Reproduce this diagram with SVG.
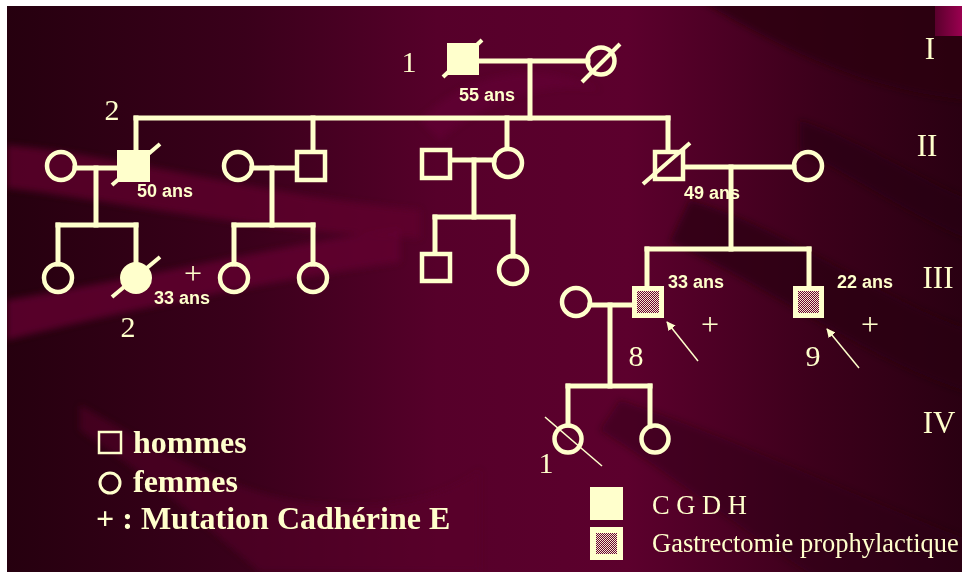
<svg xmlns="http://www.w3.org/2000/svg" width="962" height="572" viewBox="0 0 962 572">
  <defs>
    <linearGradient id="bgGrad" x1="0" y1="0" x2="1" y2="0">
      <stop offset="0" stop-color="#26000f"/>
      <stop offset="0.25" stop-color="#3a001b"/>
      <stop offset="0.45" stop-color="#56002a"/>
      <stop offset="0.65" stop-color="#5c002d"/>
      <stop offset="0.85" stop-color="#3c001b"/>
      <stop offset="1" stop-color="#2a0012"/>
    </linearGradient>
    <linearGradient id="cornerGrad" x1="0" y1="0" x2="1" y2="0">
      <stop offset="0" stop-color="#5a002c"/>
      <stop offset="1" stop-color="#9a0050"/>
    </linearGradient>
    <clipPath id="slide">
      <rect x="7" y="6" width="955" height="566"/>
    </clipPath>
    <filter id="soft" x="-10%" y="-10%" width="120%" height="120%">
      <feGaussianBlur stdDeviation="3"/>
    </filter>
    <pattern id="dots" width="2" height="2" patternUnits="userSpaceOnUse">
      <rect width="2" height="2" fill="#6a0032"/>
      <rect width="1" height="1" fill="#f6eccb"/>
      <rect x="1" y="1" width="1" height="1" fill="#f6eccb"/>
    </pattern>
    <marker id="arrow" viewBox="0 0 10 10" refX="9" refY="5" markerWidth="9" markerHeight="9" markerUnits="userSpaceOnUse" orient="auto">
      <path d="M0,0 L10,5 L0,10 Z" fill="#FFFFCC"/>
    </marker>
    <style>
      .ln { stroke: #FFFFCC; stroke-width: 5; fill: none; stroke-linecap: square; }
      .open { fill: none; stroke: #FFFFCC; stroke-width: 4.5; }
      .full { fill: #FFFFCC; stroke: none; }
      .slash { stroke: #FFFFCC; stroke-width: 4; }
      .thin { stroke: #FFFFCC; stroke-width: 1.5; }
      .num { font-family: "Liberation Serif", "Times New Roman", serif; font-size: 30px; fill: #FFFFCC; text-anchor: middle; }
      .plus { font-family: "Liberation Serif", "Times New Roman", serif; font-size: 32px; fill: #FFFFCC; text-anchor: middle; }
      .age { font-family: "Liberation Sans", Arial, sans-serif; font-size: 18px; font-weight: bold; fill: #FFFFCC; }
      .gen { font-family: "Liberation Serif", "Times New Roman", serif; font-size: 31px; fill: #FFFFCC; text-anchor: middle; }
      .leg { font-family: "Liberation Serif", "Times New Roman", serif; font-size: 32px; font-weight: bold; fill: #FFFFCC; }
      .key { font-family: "Liberation Serif", "Times New Roman", serif; font-size: 26.5px; fill: #FFFFCC; }
    </style>
  </defs>

  <!-- slide background -->
  <rect width="962" height="572" fill="#ffffff"/>
  <rect x="7" y="6" width="955" height="566" fill="url(#bgGrad)"/>
  <g clip-path="url(#slide)">
    <g id="background-bands" filter="url(#soft)">
      <path d="M7,145 C120,155 260,195 420,210 L420,238 C260,232 110,200 7,188 Z" fill="#62002f" opacity="0.75"/>
      <path d="M7,300 C120,282 250,252 400,228 L400,262 C250,284 120,312 7,340 Z" fill="#62002f" opacity="0.8"/>
      <path d="M80,405 C150,445 220,488 300,502 C380,512 440,500 480,470 L480,572 L260,572 C200,520 140,470 80,430 Z" fill="#5a002b" opacity="0.5"/>
      <path d="M420,120 C470,70 540,60 600,90 C560,80 490,95 440,140 Z" fill="#66003a" opacity="0.5"/>
      <path d="M700,0 L970,0 L970,100 C880,92 800,60 700,0 Z" fill="#2a0010" opacity="0.8"/>
      <path d="M690,200 C790,230 880,300 970,330 L970,392 C870,362 780,292 670,242 Z" fill="#2a0010" opacity="0.7"/>
      <path d="M800,120 C860,140 920,180 970,200 L970,240 C910,215 860,180 800,150 Z" fill="#2a0010" opacity="0.6"/>
      <path d="M620,400 C740,440 840,490 970,540 L970,580 L820,580 C740,530 680,480 600,430 Z" fill="#2a0010" opacity="0.45"/>
    </g>
    <rect x="935" y="6" width="27" height="30" fill="url(#cornerGrad)"/>
  </g>

  <!-- connectors: couple lines, descent lines and sibships -->
  <g id="connectors">
    <!-- generation I -->
    <line class="ln" x1="479" y1="61" x2="588" y2="61"/>
    <line class="ln" x1="530" y1="61" x2="530" y2="118"/>
    <line class="ln" x1="136" y1="118" x2="668" y2="118"/>
    <line class="ln" x1="136" y1="118" x2="136" y2="150"/>
    <line class="ln" x1="313" y1="118" x2="313" y2="150"/>
    <line class="ln" x1="507" y1="118" x2="507" y2="148"/>
    <line class="ln" x1="668" y1="118" x2="668" y2="150"/>
    <!-- generation II couples -->
    <line class="ln" x1="75" y1="168" x2="117" y2="168"/>
    <line class="ln" x1="96" y1="168" x2="96" y2="225"/>
    <line class="ln" x1="252" y1="168" x2="295" y2="168"/>
    <line class="ln" x1="272" y1="168" x2="272" y2="225"/>
    <line class="ln" x1="451" y1="160" x2="494" y2="160"/>
    <line class="ln" x1="474" y1="160" x2="474" y2="217"/>
    <line class="ln" x1="685" y1="167" x2="794" y2="167"/>
    <line class="ln" x1="731" y1="167" x2="731" y2="249"/>
    <!-- generation III sibships -->
    <line class="ln" x1="58" y1="225" x2="136" y2="225"/>
    <line class="ln" x1="58" y1="225" x2="58" y2="264"/>
    <line class="ln" x1="136" y1="225" x2="136" y2="262"/>
    <line class="ln" x1="234" y1="225" x2="313" y2="225"/>
    <line class="ln" x1="234" y1="225" x2="234" y2="264"/>
    <line class="ln" x1="313" y1="225" x2="313" y2="264"/>
    <line class="ln" x1="435" y1="217" x2="513" y2="217"/>
    <line class="ln" x1="435" y1="217" x2="435" y2="252"/>
    <line class="ln" x1="513" y1="217" x2="513" y2="256"/>
    <line class="ln" x1="647" y1="249" x2="809" y2="249"/>
    <line class="ln" x1="647" y1="249" x2="647" y2="286"/>
    <line class="ln" x1="809" y1="249" x2="809" y2="286"/>
    <!-- generation III couple and generation IV -->
    <line class="ln" x1="590" y1="305" x2="632" y2="305"/>
    <line class="ln" x1="610" y1="305" x2="610" y2="386"/>
    <line class="ln" x1="568" y1="386" x2="650" y2="386"/>
    <line class="ln" x1="568" y1="386" x2="568" y2="425"/>
    <line class="ln" x1="650" y1="386" x2="650" y2="426"/>
    <!-- proband arrows -->
    <line class="thin" x1="698" y1="361" x2="667" y2="322" marker-end="url(#arrow)"/>
    <line class="thin" x1="859" y1="368" x2="827" y2="329" marker-end="url(#arrow)"/>
  </g>

  <!-- generation I -->
  <g id="I-1">
    <rect class="full" x="447" y="43" width="32" height="32"/>
    <line class="slash" x1="443" y1="77" x2="482" y2="40"/>
    <text class="num" x="409" y="72">1</text>
    <text class="age" x="459" y="101">55 ans</text>
  </g>
  <g id="I-2">
    <circle class="open" cx="601" cy="61" r="13.5"/>
    <line class="slash" x1="582" y1="82" x2="620" y2="44"/>
  </g>

  <!-- generation II -->
  <g id="II-1"><circle class="open" cx="61" cy="166" r="14"/></g>
  <g id="II-2">
    <rect class="full" x="117" y="150" width="33" height="32"/>
    <line class="slash" x1="112" y1="185" x2="160" y2="144"/>
    <text class="num" x="112" y="120">2</text>
    <text class="age" x="137" y="197">50 ans</text>
  </g>
  <g id="II-3"><circle class="open" cx="238" cy="166" r="14"/></g>
  <g id="II-4"><rect class="open" x="297" y="152" width="28" height="28"/></g>
  <g id="II-5"><rect class="open" x="422" y="150" width="28" height="28"/></g>
  <g id="II-6"><circle class="open" cx="508" cy="163" r="14"/></g>
  <g id="II-7">
    <rect class="open" x="655" y="152" width="28" height="27"/>
    <line class="slash" x1="643" y1="184" x2="690" y2="143"/>
    <text class="age" x="684" y="199">49 ans</text>
  </g>
  <g id="II-8"><circle class="open" cx="808" cy="166" r="14"/></g>

  <!-- generation III -->
  <g id="III-1"><circle class="open" cx="58" cy="278" r="14"/></g>
  <g id="III-2">
    <circle class="full" cx="136" cy="278" r="16"/>
    <line class="slash" x1="112" y1="297" x2="160" y2="257"/>
    <text class="plus" x="193" y="284">+</text>
    <text class="age" x="154" y="304">33 ans</text>
    <text class="num" x="128" y="337">2</text>
  </g>
  <g id="III-3"><circle class="open" cx="234" cy="278" r="14"/></g>
  <g id="III-4"><circle class="open" cx="313" cy="278" r="14"/></g>
  <g id="III-5"><rect class="open" x="422" y="254" width="28" height="27"/></g>
  <g id="III-6"><circle class="open" cx="513" cy="270" r="14"/></g>
  <g id="III-7"><circle class="open" cx="576" cy="302" r="14"/></g>
  <g id="III-8">
    <rect class="full" x="632" y="286" width="32" height="32"/>
    <rect x="637" y="291" width="22" height="22" fill="url(#dots)"/>
    <text class="age" x="668" y="288">33 ans</text>
    <text class="plus" x="710" y="335">+</text>
    <text class="num" x="636" y="366">8</text>
  </g>
  <g id="III-9">
    <rect class="full" x="793" y="286" width="31" height="32"/>
    <rect x="798" y="291" width="21" height="22" fill="url(#dots)"/>
    <text class="age" x="837" y="288">22 ans</text>
    <text class="plus" x="870" y="335">+</text>
    <text class="num" x="813" y="366">9</text>
  </g>

  <!-- generation IV -->
  <g id="IV-1">
    <circle class="open" cx="568" cy="439" r="13.5"/>
    <line class="thin" x1="545" y1="417" x2="602" y2="466"/>
    <text class="num" x="546" y="473">1</text>
  </g>
  <g id="IV-2"><circle class="open" cx="655" cy="439" r="13.5"/></g>

  <!-- generation numerals -->
  <g id="generations">
    <text class="gen" x="930" y="59">I</text>
    <text class="gen" x="927" y="156">II</text>
    <text class="gen" x="938" y="288">III</text>
    <text class="gen" x="939" y="433">IV</text>
  </g>

  <!-- legend: sexes and mutation -->
  <g id="legend-left">
    <rect x="99" y="432" width="22" height="21" fill="none" stroke="#FFFFCC" stroke-width="2.5"/>
    <text class="leg" x="133" y="453">hommes</text>
    <circle cx="110" cy="483" r="10" fill="none" stroke="#FFFFCC" stroke-width="3"/>
    <text class="leg" x="133" y="492">femmes</text>
    <text class="leg" x="96" y="529">+ : Mutation Cadhérine E</text>
  </g>

  <!-- legend: phenotype keys -->
  <g id="legend-right">
    <rect class="full" x="590" y="487" width="33" height="33"/>
    <text class="key" x="652" y="514">C G D H</text>
    <rect class="full" x="590" y="527" width="33" height="33"/>
    <rect x="596" y="533" width="21" height="21" fill="url(#dots)"/>
    <text class="key" x="652" y="552">Gastrectomie prophylactique</text>
  </g>
</svg>
